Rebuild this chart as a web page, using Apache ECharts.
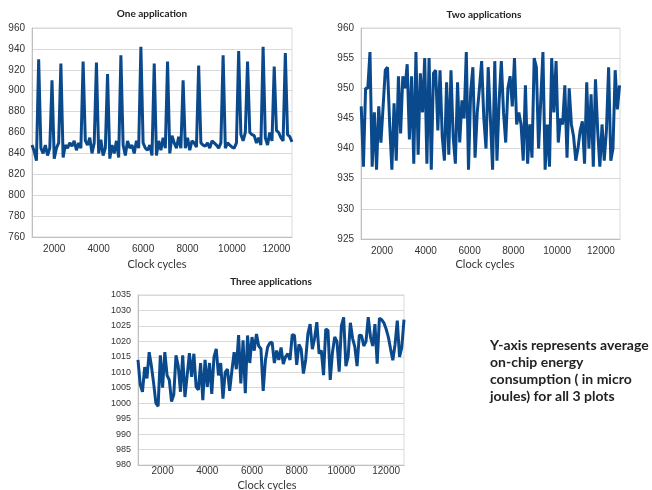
<!DOCTYPE html>
<html><head><meta charset="utf-8">
<script src="https://cdn.jsdelivr.net/npm/echarts@6/dist/echarts.min.js"></script>
<style>html,body{margin:0;padding:0;background:#fff}#c{width:652px;height:490px}</style>
</head><body><div id="c"></div>
<script>
// Sampling of clock cycles (start, step) per plot
const start1 = 1000, start2 = 1050, start3 = 900, step = 100;
const xTicks = [2000, 4000, 6000, 8000, 10000, 12000];
const titles = ['One application', 'Two applications', 'Three applications'];
const xName = 'Clock cycles';
const note = ['Y-axis represents average', 'on-chip energy', 'consumption ( in micro', 'joules) for all 3 plots'];

const one = [848,842,833,930,845,840,848,838,845,910,835,845,850,926,836,848,845,850,847,852,
843,850,845,928,852,848,855,840,850,927,840,853,838,845,916,835,848,840,852,836,
934,848,838,852,845,848,840,852,845,942,850,845,843,848,838,926,838,852,843,855,
845,928,840,857,850,845,856,845,910,845,855,843,852,850,846,924,850,848,847,850,
845,852,850,848,845,850,934,845,850,848,846,845,850,938,858,852,860,928,860,858,
857,850,855,848,942,855,848,860,852,923,862,860,855,852,936,858,856,851];

const two = [947,937,950,950,956,937,946,936.5,947,941,947,953,953.5,944,936.5,947.5,938,952,942.5,952,
950,954,941.5,952,937.5,956,939,952.5,946,955,937.5,955,936.5,952.5,953,943,953,942,938,951,
939,953,942,937.5,951,941,948,945,956,936.5,949.5,953.5,938.5,946,950,954.5,945,940,953.5,945,
936.5,954.5,938,948,954.5,946,941,950,952,947,955,944,946,944,938,950.5,937.5,944,938.5,955,
953.5,940,948,956,936.5,944,937,955,946,954.5,941,945,944,950.5,938.5,950,944,942,938,940,
943,944.5,937.5,951,940,949,937,951.5,943,937,944,938,943,953.5,938,940,953,946.5,950.5];

const three = [1014,1006,1003.7,1011.7,1008,1016.5,1012,1006.4,1000,999,1015.5,1005,1016.5,1009,1007.5,1000.5,1002.7,1015.5,1012,1003.7,
1015.5,1002,1009,1016.2,1008.5,1016,1005.3,1004.3,1013,1001,1014,1005.3,1013,1003,1015,1017.6,1009,1013,1001.5,1010,
1011,1004,1010.5,1016.5,1011,1022,1006.4,1020.3,1003.2,1021.9,1013,1021.4,1017,1022.4,1018.5,1017.6,1004,1013.9,1018.2,1019.5,
1019.7,1013,1017,1014,1018,1012.7,1015,1016,1014,1022.2,1021.9,1012.4,1019,1017.5,1009.6,1014,1022.4,1025.6,1017.5,1021,
1026.2,1016,1017.1,1009.1,1024,1023.5,1007.5,1016.5,1021.4,1020,1010.2,1025,1027.8,1012,1015,1026,1021,1018.2,1012,1022,
1021.9,1018.5,1020,1027.8,1021.5,1018.5,1025.6,1012.8,1027.5,1027,1026,1024,1021.4,1017.5,1013.9,1019,1026.7,1015,1018,1027];

const pairs = (vals, s) => vals.map((v, i) => [s + step * i, v]);

const LINE = '#0a4a8c', TXT = '#333333', GRID = '#d9d9d9';
const plain = v => String(v);
function xAx(gi, min, max, fs, margin) {
  return { gridIndex: gi, type: 'value', min, max,
    axisLine: { show: true, lineStyle: { color: '#bfbfbf' } },
    axisTick: { show: false },
    splitLine: { show: false },
    axisLabel: { customValues: xTicks, formatter: plain, color: TXT, fontSize: fs, margin, fontFamily: 'Liberation Sans' } };
}
function yAx(gi, min, max, interval, fs) {
  return { gridIndex: gi, type: 'value', min, max, interval,
    axisLine: { show: true, lineStyle: { color: '#bfbfbf' } },
    axisTick: { show: false },
    splitLine: { show: true, lineStyle: { color: GRID } },
    axisLabel: { formatter: plain, color: TXT, fontSize: fs, margin: 7, fontFamily: 'Liberation Sans' } };
}
function txt(x, y, t, size, bold, align) {
  return { type: 'text', x, y, style: { text: t, fill: bold ? '#222' : TXT,
    font: (bold ? 'bold ' : '') + size + 'px Lato', textAlign: align || 'center', textVerticalAlign: 'middle' } };
}

const chart = echarts.init(document.getElementById('c'), null, { renderer: 'canvas' });
chart.setOption({
  animation: false,
  grid: [
    { left: 32, top: 28, width: 260, height: 209, show: true, borderColor: GRID, borderWidth: 1 },
    { left: 361, top: 28, width: 259, height: 211, show: true, borderColor: GRID, borderWidth: 1 },
    { left: 138, top: 295, width: 266, height: 170, show: true, borderColor: GRID, borderWidth: 1 }
  ],
  xAxis: [xAx(0, 1000, 12700, 10, 7), xAx(1, 1040, 12870, 10, 7), xAx(2, 900, 12800, 10, 1)],
  yAxis: [yAx(0, 760, 960, 20, 10), yAx(1, 925, 960, 5, 10), yAx(2, 980, 1035, 5, 9)],
  series: [
    { type: 'line', xAxisIndex: 0, yAxisIndex: 0, data: pairs(one, start1), showSymbol: false, lineStyle: { width: 3, color: LINE } },
    { type: 'line', xAxisIndex: 1, yAxisIndex: 1, data: pairs(two, start2), showSymbol: false, lineStyle: { width: 3, color: LINE } },
    { type: 'line', xAxisIndex: 2, yAxisIndex: 2, data: pairs(three, start3), showSymbol: false, lineStyle: { width: 3, color: LINE } }
  ],
  graphic: [
    txt(152, 14, titles[0], 10, true),
    txt(484, 15, titles[1], 10, true),
    txt(271, 282, titles[2], 10, true),
    txt(157, 264, xName, 11, false),
    txt(485, 264, xName, 11, false),
    txt(267, 485, xName, 11, false),
    txt(490, 345, note[0], 14, true, 'left'),
    txt(490, 362, note[1], 14, true, 'left'),
    txt(490, 379, note[2], 14, true, 'left'),
    txt(490, 396, note[3], 14, true, 'left')
  ]
});
</script></body></html>
